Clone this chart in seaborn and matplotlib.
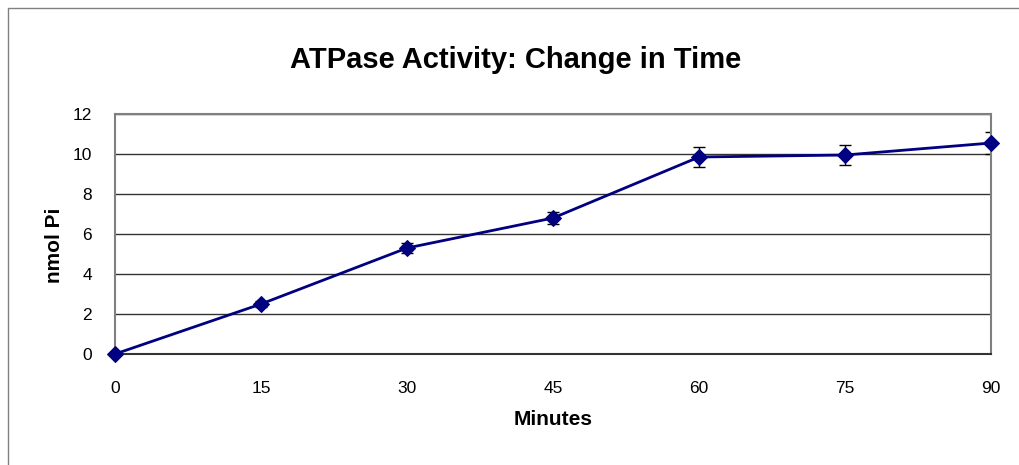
import matplotlib
matplotlib.use('Agg')
import matplotlib.pyplot as plt
import seaborn as sns
import pandas as pd
from matplotlib.patches import Rectangle

# values
minutes = [0, 15, 30, 45, 60, 75, 90]
nmol_pi = [0.0, 2.5, 5.3, 6.8, 9.85, 9.95, 10.55]
errors = [0.05, 0.15, 0.25, 0.3, 0.5, 0.48, 0.53]
y_ticks = [0, 2, 4, 6, 8, 10, 12]

df = pd.DataFrame({'minutes': minutes, 'nmol_pi': nmol_pi, 'err': errors})

sns.set_style('white')
plt.rcParams['font.family'] = ['Liberation Sans', 'DejaVu Sans']
plt.rcParams['text.color'] = 'black'
plt.rcParams['axes.labelcolor'] = 'black'
plt.rcParams['xtick.color'] = 'black'
plt.rcParams['ytick.color'] = 'black'

fig = plt.figure(figsize=(10.19, 4.65), dpi=100)
ax = fig.add_axes([0.1129, 0.2387, 0.8596, 0.5161])

# error bars first, so the line sits on top
ax.errorbar(df['minutes'], df['nmol_pi'], yerr=df['err'], fmt='none',
            ecolor='black', elinewidth=1, capsize=4.5, capthick=1, zorder=2)
sns.lineplot(data=df, x='minutes', y='nmol_pi', ax=ax, color='#000080',
             marker='D', markersize=8, markeredgecolor='#000080',
             linewidth=2, zorder=3, clip_on=False)

ax.set_xlim(0, 90)
ax.set_ylim(0, 12)
ax.set_xticks(minutes)
ax.set_yticks(y_ticks)
ax.tick_params(axis='both', labelsize=12.5, length=4, direction='out')
ax.tick_params(axis='x', pad=15.5)
ax.tick_params(axis='y', pad=12.5)

ax.grid(axis='y', color='#333333', linewidth=1)
ax.set_axisbelow(True)
for side in ['top', 'right', 'left']:
    ax.spines[side].set_color('#808080')
    ax.spines[side].set_linewidth(1.5)
ax.spines['bottom'].set_color('#333333')
ax.spines['bottom'].set_linewidth(1.5)

ax.set_xlabel('Minutes', fontsize=15, fontweight='bold', labelpad=10)
ax.set_ylabel('')
fig.text(0.053, 0.473, 'nmol Pi', rotation=90, ha='center', va='center',
         fontsize=15, fontweight='bold')
fig.text(0.506, 0.87, 'ATPase Activity: Change in Time', ha='center',
         va='center', fontsize=21, fontweight='bold')

# outer chart border
fig.patches.append(Rectangle((7.5 / 1019, -0.1), 1.1, (465 - 8) / 465 + 0.1,
                             transform=fig.transFigure, fill=False,
                             edgecolor='#808080', linewidth=1))

fig.savefig('out.png', dpi=100)
